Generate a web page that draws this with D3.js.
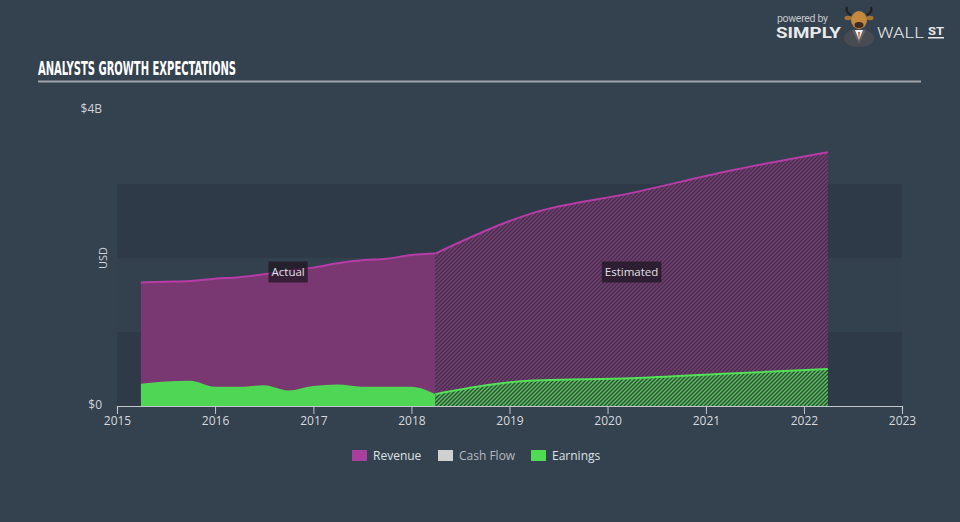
<!DOCTYPE html>
<html>
<head>
<meta charset="utf-8">
<script src="https://cdn.jsdelivr.net/npm/d3@7"></script>
<style>
  html, body { margin: 0; padding: 0; background: #34414e; }
  svg { display: block; }
</style>
</head>
<body>
<svg id="chart" width="960" height="522"></svg>
<script>
// values in $ billions
var actualDates = ["2015-03-31","2015-06-30","2015-09-30","2015-12-31","2016-03-31","2016-06-30","2016-09-30",
                   "2016-12-31","2017-03-31","2017-06-30","2017-09-30","2017-12-31","2018-03-31"];
var revenueActual  = [1.67, 1.68, 1.69, 1.72, 1.74, 1.78, 1.83, 1.87, 1.93, 1.97, 1.99, 2.04, 2.06];
var earningsActual = [0.30, 0.33, 0.34, 0.26, 0.26, 0.28, 0.21, 0.27, 0.29, 0.26, 0.26, 0.26, 0.16];

var estDates = ["2018-03-31","2019-03-31","2020-03-31","2021-03-31","2022-03-31"];
var revenueEst  = [2.06, 2.61, 2.88, 3.18, 3.43];
var earningsEst = [0.16, 0.345, 0.375, 0.44, 0.50];

var yTicks = [0, 4];
var yTickLabels = ["$0", "$4B"];
var legendNames = ["Revenue", "Cash Flow", "Earnings"];
var legendColors = ["#a83f9c", "#d0d0d0", "#4fdc54"];

var parseDate = d3.timeParse("%Y-%m-%d");
var svg = d3.select("#chart");

var x = d3.scaleTime()
    .domain([new Date(2015, 0, 1), new Date(2023, 0, 1)])
    .range([117, 902]);
var y = d3.scaleLinear().domain([0, 4]).range([406, 110]);

// header
svg.append("text")
    .attr("x", 38).attr("y", 75)
    .attr("fill", "#ffffff")
    .attr("font-family", "'Liberation Sans Narrow', 'DejaVu Sans Condensed', sans-serif")
    .attr("font-stretch", "condensed")
    .attr("font-weight", "bold")
    .attr("font-size", 19)
    .attr("textLength", 198)
    .attr("lengthAdjust", "spacingAndGlyphs")
    .text("ANALYSTS GROWTH EXPECTATIONS");

svg.append("rect")
    .attr("x", 38).attr("y", 80.5).attr("width", 883).attr("height", 2)
    .attr("fill", "#9ea4ab");

// logo
var logo = svg.append("g").attr("font-family", "Roboto, sans-serif");
logo.append("text").attr("x", 777).attr("y", 21.5)
    .attr("font-size", 10.5).attr("fill", "#c4c8cc").attr("letter-spacing", -0.3)
    .text("powered by");
logo.append("text").attr("x", 776).attr("y", 37.5)
    .attr("font-size", 14.5).attr("font-weight", "bold").attr("fill", "#e8eaec")
    .attr("textLength", 65).attr("lengthAdjust", "spacingAndGlyphs")
    .text("SIMPLY");
logo.append("text").attr("x", 877).attr("y", 37.5)
    .attr("font-size", 14.5).attr("font-weight", 300).attr("fill", "#e8eaec")
    .attr("textLength", 47).attr("lengthAdjust", "spacingAndGlyphs")
    .text("WALL");
logo.append("text").attr("x", 928).attr("y", 35)
    .attr("font-size", 10.5).attr("font-weight", "bold").attr("fill", "#e8eaec")
    .attr("textLength", 16).attr("lengthAdjust", "spacingAndGlyphs")
    .text("ST");
logo.append("rect").attr("x", 928).attr("y", 37).attr("width", 16).attr("height", 1.5).attr("fill", "#e8eaec");
// bull
logo.append("path").attr("d", "M844,37 Q844,47 859,47 Q874,47 874,37 Q871,29 859,29 Q847,29 844,37 Z").attr("fill", "#484c52");
logo.append("path").attr("d", "M852,30 L859,44 L866,30 Z").attr("fill", "#5d6168");
logo.append("path").attr("d", "M855,30 L859,40 L863,30 Z").attr("fill", "#efefef");
logo.append("path").attr("d", "M858,32 L859,41 L860,32 Z").attr("fill", "#d9532b");
logo.append("path").attr("d", "M851,15 Q845,12 847,7 M867,15 Q873,12 871,7")
    .attr("fill", "none").attr("stroke", "#222").attr("stroke-width", 2.2);
logo.append("ellipse").attr("cx", 848).attr("cy", 18).attr("rx", 3.5).attr("ry", 2.2).attr("fill", "#a8722f");
logo.append("ellipse").attr("cx", 870).attr("cy", 18).attr("rx", 3.5).attr("ry", 2.2).attr("fill", "#a8722f");
logo.append("ellipse").attr("cx", 859).attr("cy", 20).attr("rx", 8).attr("ry", 9).attr("fill", "#c38a3f");
logo.append("ellipse").attr("cx", 859).attr("cy", 25).attr("rx", 4.5).attr("ry", 3).attr("fill", "#3b2b22");

// background bands
svg.append("g").selectAll("rect")
    .data([[0, 1, "#2e3a47"], [1, 2, "#33404d"], [2, 3, "#2e3a47"]])
    .join("rect")
    .attr("x", 117).attr("width", 902 - 117)
    .attr("y", function(d) { return y(d[1]); })
    .attr("height", function(d) { return y(d[0]) - y(d[1]); })
    .attr("fill", function(d) { return d[2]; });

// hatch patterns
var defs = svg.append("defs");
function hatch(id, bg, fg) {
    var p = defs.append("pattern").attr("id", id)
        .attr("patternUnits", "userSpaceOnUse")
        .attr("width", 4).attr("height", 4);
    p.append("rect").attr("width", 4).attr("height", 4).attr("fill", bg);
    p.append("path").attr("d", "M-1,1 L1,-1 M0,4 L4,0 M3,5 L5,3")
        .attr("stroke", fg).attr("stroke-width", 1.4);
}
hatch("hatchRev", "#3d3347", "#7f3b79");
hatch("hatchEarn", "#33493c", "#56c75b");

var actual = actualDates.map(function(d, i) {
    return { date: parseDate(d), rev: revenueActual[i], earn: earningsActual[i] };
});
var est = estDates.map(function(d, i) {
    return { date: parseDate(d), rev: revenueEst[i], earn: earningsEst[i] };
});

function area(key) {
    return d3.area().curve(d3.curveMonotoneX)
        .x(function(d) { return x(d.date); })
        .y0(y(0))
        .y1(function(d) { return y(d[key]); });
}
function line(key) {
    return d3.line().curve(d3.curveMonotoneX)
        .x(function(d) { return x(d.date); })
        .y(function(d) { return y(d[key]); });
}

// revenue
svg.append("path").datum(actual).attr("d", area("rev")).attr("fill", "#7a3873");
svg.append("path").datum(est).attr("d", area("rev")).attr("fill", "url(#hatchRev)");
// earnings
svg.append("path").datum(actual).attr("d", area("earn")).attr("fill", "#4fd654");
svg.append("path").datum(est).attr("d", area("earn")).attr("fill", "url(#hatchEarn)");

[actual, est].forEach(function(data) {
    svg.append("path").datum(data).attr("d", line("rev"))
        .attr("fill", "none").attr("stroke", "#b83ca7").attr("stroke-width", 2);
});
svg.append("path").datum(est).attr("d", line("earn"))
    .attr("fill", "none").attr("stroke", "#52e157").attr("stroke-width", 2);

// x axis
var xAxis = svg.append("g")
    .attr("transform", "translate(0," + y(0) + ")")
    .call(d3.axisBottom(x).ticks(d3.timeYear.every(1)).tickFormat(d3.timeFormat("%Y"))
        .tickSizeInner(8).tickSizeOuter(4).tickPadding(2));
xAxis.select(".domain").attr("stroke", "#c2c8ce").attr("stroke-width", 1.2);
xAxis.selectAll(".tick line").attr("stroke", "#c2c8ce");
xAxis.selectAll(".tick text")
    .attr("fill", "#d6dade")
    .attr("font-family", "'Open Sans', sans-serif")
    .attr("font-size", 12);

// y labels
svg.append("g").selectAll("text")
    .data(yTicks)
    .join("text")
    .attr("x", 102)
    .attr("y", function(d) { return y(d) - 1; })
    .attr("dy", "0.35em")
    .attr("text-anchor", "end")
    .attr("fill", "#d0d4d8")
    .attr("font-family", "'Open Sans', sans-serif")
    .attr("font-size", 12)
    .text(function(d, i) { return yTickLabels[i]; });

svg.append("text")
    .attr("transform", "translate(107," + y(2) + ") rotate(-90)")
    .attr("text-anchor", "middle")
    .attr("fill", "#d0d4d8")
    .attr("font-family", "'Open Sans', sans-serif")
    .attr("font-size", 11)
    .text("USD");

// period labels
function periodLabel(text, data) {
    var mid = new Date((data[0].date.getTime() + data[data.length - 1].date.getTime()) / 2);
    var g = svg.append("g").attr("transform", "translate(" + x(mid) + "," + 272 + ")");
    var t = g.append("text")
        .attr("text-anchor", "middle").attr("dy", "0.35em")
        .attr("fill", "#e4e0e6")
        .attr("font-family", "'Open Sans', sans-serif")
        .attr("font-size", 11.5)
        .text(text);
    var bb = t.node().getBBox();
    g.insert("rect", "text")
        .attr("x", bb.x - 3).attr("y", -10.5)
        .attr("width", bb.width + 6).attr("height", 21)
        .attr("fill", "#1e1722").attr("fill-opacity", 0.75);
}
periodLabel("Actual", actual);
periodLabel("Estimated", est);

// legend
var legendX = [352, 438, 531];
var lg = svg.append("g").selectAll("g")
    .data(legendNames)
    .join("g")
    .attr("transform", function(d, i) { return "translate(" + legendX[i] + ",450)"; });
lg.append("rect").attr("width", 15).attr("height", 11)
    .attr("fill", function(d, i) { return legendColors[i]; });
lg.append("text")
    .attr("x", 21).attr("y", 6).attr("dy", "0.35em")
    .attr("fill", function(d, i) { return i === 1 ? "#b4bac0" : "#dfe2e5"; })
    .attr("font-family", "'Open Sans', sans-serif")
    .attr("font-size", 12)
    .text(function(d) { return d; });
</script>
</body>
</html>
